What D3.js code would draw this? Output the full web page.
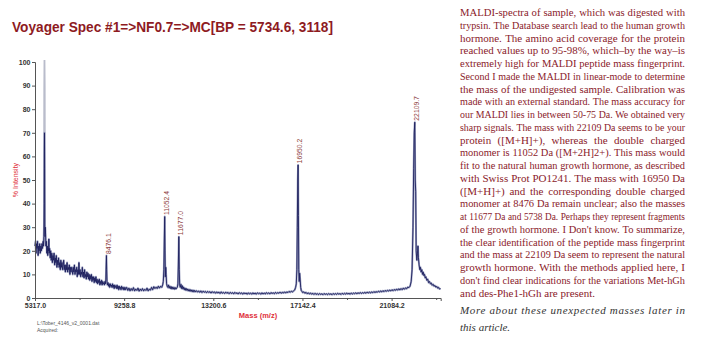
<!DOCTYPE html>
<html><head><meta charset="utf-8">
<script src="https://cdn.jsdelivr.net/npm/d3@7"></script>
<style>html,body{margin:0;padding:0;background:#fff;} svg{display:block}</style>
</head><body>
<svg id="c" width="702" height="351"></svg>
<script>
const titleText = "Voyager Spec #1=>NF0.7=>MC[BP = 5734.6, 3118]";
const xLabelText = "Mass (m/z)";
const yLabelText = "% Intensity";
const fileLines = ["L:\\Tober_4146_v2_0001.dat", "Acquired:"];
const xDomain = [5317.0, 23255];
const xMajorTicks = [5317.0, 9258.8, 13200.6, 17142.4, 21084.2];
const xMinorTicks = [7287.9, 11229.7, 15171.5, 19113.3, 23055.1];
const yTicks = [0, 10, 20, 30, 40, 50, 60, 70, 80, 90, 100];

const peakNames = ["8476.1", "11052.4", "11677.0", "16950.2", "22109.7"];
const peakMass = [8476.1, 11052.4, 11677.0, 16950.2, 22109.7];
const peakTop = [18, 34.5, 26, 56.4, 74.5];

// [mass, % intensity]
const spectrumLow = [
[5317,22],[5340,24],[5360,19],[5385,23],[5410,21],[5430,24],[5455,18],[5480,22],[5500,20],[5525,23],
[5550,19],[5575,22],[5600,20],[5625,23],[5650,21],[5675,24],[5695,22],[5710,26],[5722,40],[5730,62],
[5736,70],[5742,55],[5750,30],[5760,26],[5772,30],[5785,27],[5800,22],[5820,24],[5840,19],[5860,22],
[5880,18],[5900,21],[5915,20],[5930,25],[5945,19],[5965,21],[5990,17],[6010,20],[6035,16],[6060,19],
[6085,15],[6110,18],[6135,16],[6160,19],[6185,14],[6210,17],[6235,15],[6260,18],[6285,13],[6310,16],
[6335,14],[6360,17],[6385,13],[6410,15],[6435,12],[6460,16],[6485,13],[6510,15],[6535,12],[6560,14],
[6585,16],[6610,12],[6635,14],[6660,11],[6685,14],[6710,12],[6735,15],[6760,11],[6785,13],[6810,12],
[6835,14],[6860,10],[6885,13],[6910,11],[6935,13],[6960,12],[6985,10],[7010,13],[7035,11],[7060,14],
[7085,10],[7110,12],[7135,11],[7160,13],[7185,9],[7210,12],[7235,10],[7260,15],[7285,10],[7310,12],
[7335,9],[7360,11],[7385,10],[7410,13],[7435,9],[7460,11],[7485,8.5],[7510,12],[7535,9],[7560,10],
[7585,8],[7610,11],[7635,9],[7660,10.5],[7685,8],[7710,10],[7735,7.5],[7760,9.5],[7785,8],[7810,10],
[7835,7],[7860,9],[7885,7.5],[7910,9],[7935,6.5],[7960,8.5],[7985,7],[8010,9],[8035,6.5],[8060,8],
[8085,6],[8110,7.5],[8135,6.5],[8160,8],[8185,5.5],[8210,7],[8235,6],[8260,7.5],[8285,5.5],[8310,7],
[8335,6],[8360,6.5],[8385,5.5],[8410,7],[8430,6],[8450,8],[8465,14],[8476,18],[8487,12],[8500,7],
[8520,5.5],[8545,6.5],[8570,5],[8595,6],[8620,4.5],[8645,6],[8670,5],[8695,5.5],[8720,4.5],[8745,6],
[8770,4.5],[8795,5.5],[8820,4],[8845,5.5],[8870,4.5],[8895,5],[8920,4],[8945,5.5],[8970,4],[8995,5],
[9020,3.5],[9045,5],[9070,4],[9095,4.5],[9120,3.5],[9145,5],[9170,4],[9195,4.5],[9220,3.5],[9245,4.5],
[9270,3.5],[9295,4.5]
];
const spectrumMid = [
[9320,3.5],[9370,4.5],[9420,3.2],[9470,4.2],[9520,3],[9570,4],[9620,3.2],[9670,4.4],[9720,3],[9770,3.8],
[9820,3.2],[9870,4.2],[9920,2.9],[9970,3.8],[10020,3.1],[10070,4],[10120,3],[10170,3.7],[10220,3.2],[10270,4.2],
[10320,3],[10370,3.8],[10420,3.3],[10470,4.5],[10520,3.5],[10570,4.8],[10620,4],[10670,4.6],[10720,4],[10770,5],
[10820,4.2],[10870,5],[10920,4.5],[10960,5.5],[10990,7],[11015,12],[11035,25],[11052,34.5],[11065,20],[11080,9],
[11100,13],[11115,10],[11135,6],[11160,5],[11190,4.5],[11220,5.5],[11250,4.2],[11280,5],[11310,4],[11340,4.8],
[11370,3.8],[11400,4.6],[11430,3.8],[11460,4.5],[11490,3.7],[11520,4.4],[11550,3.8],[11580,4.3],[11610,4.5],[11635,6],
[11655,14],[11677,26],[11695,12],[11715,5.5],[11740,4.5],[11770,5.8],[11800,4],[11830,5.2],[11860,3.8],[11890,4.6],
[11920,3.5],[11950,4.2],[11980,3.3],[12010,4],[12040,3.2],[12070,3.8],[12100,3],[12130,3.6],[12160,2.9],[12190,3.5],
[12220,2.8],[12250,3.4],[12280,2.7],[12310,3.3],[12340,2.6],[12370,3.2],[12400,2.6],[12450,3.1],[12500,2.5],[12550,3],
[12600,2.4],[12650,3],[12700,2.3],[12750,2.9],[12800,2.4],[12850,2.8],[12900,2.2],[12950,2.8],[13000,2.3],[13050,2.7],
[13100,2.1],[13150,2.7],[13200,2.2],[13250,2.6],[13300,2],[13350,2.6],[13400,2.1],[13450,2.5],[13500,1.9],[13550,2.6],
[13600,2],[13650,2.4],[13700,1.9],[13750,2.5],[13800,2],[13850,2.4],[13900,1.8],[13950,2.4],[14000,1.9],[14050,2.3],
[14100,1.7],[14150,2.4],[14200,1.9],[14250,2.2],[14300,1.7],[14350,2.3],[14400,1.8],[14450,2.2],[14500,1.6],[14550,2.2],
[14600,1.8],[14650,2.1],[14700,1.6],[14750,2.2],[14800,1.7],[14850,2.1],[14900,1.6],[14950,2.2],[15000,1.7],[15050,2.1],
[15100,1.6],[15150,2.2],[15200,1.8],[15250,2.1],[15300,1.6],[15350,2.2],[15400,1.7],[15450,2.1],[15500,1.7],[15550,2.3],
[15600,1.8],[15650,2.2],[15700,1.7],[15750,2.3],[15800,1.9],[15850,2.2],[15900,1.8],[15950,2.4],[16000,1.9],[16050,2.3],
[16100,2],[16150,2.5],[16200,2],[16250,2.4],[16300,2.1],[16350,2.6],[16400,2.1],[16450,2.6],[16500,2.3],[16550,2.8],
[16600,2.4],[16650,2.9],[16700,2.6],[16750,3],[16800,3.4],[16840,4.5],[16870,6],[16895,12],[16915,30],[16935,50],
[16950,56.4],[16965,35],[16980,12],[17000,7],[17020,10.5],[17040,8],[17065,4.5],[17090,3.2]
];
const spectrumHigh = [
[17120,2.8],[17150,2.3],[17200,2.6],[17250,2],[17300,2.4],[17350,1.8],[17400,2.2],[17450,1.7],[17500,2.1],[17550,1.6],
[17600,2],[17650,1.5],[17700,2],[17750,1.5],[17800,1.9],[17850,1.4],[17900,1.9],[17950,1.5],[18000,1.8],[18050,1.4],
[18100,1.9],[18150,1.5],[18200,1.8],[18250,1.4],[18300,1.9],[18350,1.5],[18400,1.8],[18450,1.4],[18500,1.9],[18550,1.5],
[18600,1.9],[18650,1.5],[18700,2],[18750,1.6],[18800,1.9],[18850,1.5],[18900,2],[18950,1.6],[19000,2],[19050,1.6],
[19100,2.1],[19150,1.7],[19200,2],[19250,1.6],[19300,2.1],[19350,1.7],[19400,2.1],[19450,1.8],[19500,2.2],[19550,1.8],
[19600,2.2],[19650,1.9],[19700,2.3],[19750,1.9],[19800,2.3],[19850,2],[19900,2.4],[19950,2],[20000,2.5],[20050,2.1],
[20100,2.5],[20150,2.1],[20200,2.6],[20250,2.2],[20300,2.7],[20350,2.3],[20400,2.7],[20450,2.4],[20500,2.9],[20550,2.5],
[20600,3],[20650,2.6],[20700,3.1],[20750,2.7],[20800,3.2],[20850,2.8],[20900,3.3],[20950,2.9],[21000,3.4],[21050,3],
[21100,3.5],[21150,3.1],[21200,3.6],[21250,3.2],[21300,3.8],[21350,3.3],[21400,3.9],[21450,3.4],[21500,4],[21550,3.5],
[21600,4.2],[21650,3.7],[21700,4.3],[21750,3.9],[21800,4.6],[21850,4.4],[21900,5],[21950,7],[21990,12],[22030,30],
[22060,55],[22085,70],[22109,74.5],[22130,50],[22150,45],[22170,20],[22200,16],[22230,19],[22250,22],[22270,17],
[22300,14],[22330,12],[22360,13],[22390,11],[22420,12],[22450,10],[22480,11],[22510,9.5],[22540,10],[22570,8.5],
[22600,9],[22640,7.5],[22680,8],[22720,6.5],[22760,7],[22800,6],[22840,6.3],[22880,5.4],[22920,5.8],[22960,5],
[23000,5.3],[23040,4.6],[23080,4.9],[23120,4.2],[23160,4.5],[23200,3.8],[23250,4]
];
// raw (light) trace of the base peak that runs off the top
const rawSpike = [[5700,24],[5712,30],[5726,88],[5736,125],[5746,90],[5758,30],[5770,28]];

const bodyLines = [
"MALDI-spectra of sample, which was digested with",
"trypsin. The Database search lead to the human growth",
"hormone. The amino acid coverage for the protein",
"reached values up to 95-98%, which\u2013by the way\u2013is",
"extremely high for MALDI peptide mass fingerprint.",
"Second I made the MALDI in linear-mode to determine",
"the mass of the undigested sample. Calibration was",
"made with an external standard. The mass accuracy for",
"our MALDI lies in between 50-75 Da. We obtained very",
"sharp signals. The mass with 22109 Da seems to be your",
"protein ([M+H]+), whereas the double charged",
"monomer is 11052 Da ([M+2H]2+). This mass would",
"fit to the natural human growth hormone, as described",
"with Swiss Prot PO1241. The mass with 16950 Da",
"([M+H]+) and the corresponding double charged",
"monomer at 8476 Da remain unclear; also the masses",
"at 11677 Da and 5738 Da. Perhaps they represent fragments",
"of the growth hormone. I Don't know. To summarize,",
"the clear identification of the peptide mass fingerprint",
"and the mass at 22109 Da seem to represent the natural",
"growth hormone. With the methods applied here, I",
"don't find clear indications for the variations Met-hGh",
"and des-Phe1-hGh are present."
];
const noteLines = ["More about these unexpected masses later in", "this article."];

const svg = d3.select("#c");
const FONT = "'Liberation Sans', Arial, sans-serif";
const SERIF = "'Liberation Serif', 'Times New Roman', serif";

// title
svg.append("text").attr("x", 12).attr("y", 31.5)
  .attr("font-family", FONT).attr("font-weight", "bold").attr("font-size", 15)
  .attr("fill", "#8e1b1f").attr("textLength", 321).attr("lengthAdjust", "spacingAndGlyphs")
  .text(titleText);

const x = d3.scaleLinear().domain(xDomain).range([35, 440.7]);
const y = d3.scaleLinear().domain([0, 100]).range([298, 62]);

const chart = svg.append("g");
svg.append("defs").append("clipPath").attr("id", "clipTop")
  .append("rect").attr("x", 0).attr("y", 60).attr("width", 455).attr("height", 291);
chart.attr("clip-path", "url(#clipTop)");

const spectrum = spectrumLow.concat(spectrumMid, spectrumHigh);
const line = d3.line().x(d => x(d[0])).y(d => y(Math.min(d[1], 101)));

chart.append("path").datum(rawSpike).attr("d", line)
  .attr("fill", "none").attr("stroke", "#b9bccb").attr("stroke-width", 1.8);
chart.append("path").datum(spectrum).attr("d", line)
  .attr("fill", "none").attr("stroke", "#9ea3c2").attr("stroke-width", 2).attr("stroke-linejoin", "round");
chart.append("path").datum(spectrum).attr("d", line)
  .attr("fill", "none").attr("stroke", "#1d1f5e").attr("stroke-width", 0.9).attr("stroke-linejoin", "round");

// axes
const xAxis = chart.append("g").attr("transform", "translate(0,298)")
  .call(d3.axisBottom(x).tickValues(xMajorTicks).tickFormat(d3.format(".1f")).tickSize(3).tickPadding(2));
chart.append("g").attr("transform", "translate(0,298)")
  .call(d3.axisBottom(x).tickValues(xMinorTicks).tickFormat("").tickSize(2))
  .select(".domain").remove();
const yAxis = chart.append("g").attr("transform", "translate(35,0)")
  .call(d3.axisLeft(y).tickValues(yTicks).tickSize(3).tickPadding(1.5));
[xAxis, yAxis].forEach(a => {
  a.select(".domain").attr("stroke", "#555");
  a.selectAll(".tick text").attr("font-family", FONT).attr("font-weight", "bold")
    .attr("font-size", 7).attr("fill", "#333");
});
chart.selectAll(".tick line").attr("stroke", "#555");

// peak labels
peakNames.forEach((n, i) => {
  const px = x(peakMass[i]) + 2.5, py = y(peakTop[i]) - 1.5;
  chart.append("text").attr("transform", `translate(${px},${py}) rotate(-90)`)
    .attr("dominant-baseline", "middle")
    .attr("font-family", FONT).attr("font-size", 6.8).attr("fill", "#8c3b3b").text(n);
});

// axis titles
svg.append("text").attr("transform", "translate(16,180) rotate(-90)")
  .attr("text-anchor", "middle").attr("dominant-baseline", "middle")
  .attr("font-family", FONT).attr("font-size", 7).attr("fill", "#e0303a").text(yLabelText);
svg.append("text").attr("x", 258).attr("y", 318).attr("text-anchor", "middle")
  .attr("font-family", FONT).attr("font-weight", "bold").attr("font-size", 7.5).attr("fill", "#e0303a").text(xLabelText);
fileLines.forEach((t, i) => {
  svg.append("text").attr("x", 37).attr("y", 325 + i * 7)
    .attr("font-family", FONT).attr("font-size", 5).attr("fill", "#555").text(t);
});

// body text, justified word by word
const LEFT = 460, W = 225, FS = 11;
const measure = svg.append("text").attr("font-family", SERIF).attr("x", -999).attr("y", -999);
function textWidth(w, fs, italic) {
  measure.attr("font-size", fs).attr("font-style", italic ? "italic" : "normal").text(w);
  return measure.node().getComputedTextLength();
}
function justified(txt, yy, opts) {
  const italic = !!opts.italic;
  let fs = FS;
  const natural = textWidth(txt, fs, italic);
  if (natural > W) fs = FS * W / natural * 0.995;
  const t = svg.append("text").attr("y", yy)
    .attr("font-family", SERIF).attr("font-size", fs).attr("fill", opts.fill)
    .attr("font-style", italic ? "italic" : "normal");
  if (!opts.justify) { t.attr("x", LEFT).text(txt); return; }
  if (italic) {
    // wide letter spacing as in the reference
    const n = txt.length;
    const ls = (W - textWidth(txt, fs, italic)) / (n - 1);
    t.attr("x", LEFT).attr("letter-spacing", ls).text(txt);
    return;
  }
  const words = txt.split(" ");
  const widths = words.map(w => textWidth(w, fs, italic));
  const gap = (W - d3.sum(widths)) / (words.length - 1);
  let cx = LEFT;
  words.forEach((w, i) => {
    t.append("tspan").attr("x", cx).text(w);
    cx += widths[i] + gap;
  });
}
bodyLines.forEach((l, i) => {
  justified(l, 16 + i * 12.75, { fill: "#8a1a2a", justify: i < bodyLines.length - 1 });
});
noteLines.forEach((l, i) => {
  justified(l, 314 + i * 17, { fill: "#333", italic: true, justify: i === 0 });
});
measure.remove();
</script>
</body></html>
